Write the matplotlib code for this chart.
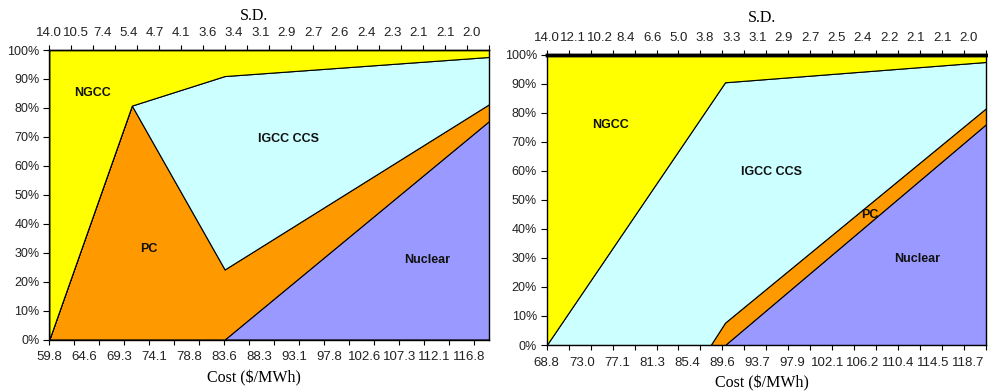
import numpy as np
import matplotlib
matplotlib.use("Agg")
import matplotlib.pyplot as plt
from matplotlib.ticker import PercentFormatter

# ---- data -------------------------------------------------------------
technologies = ["Nuclear", "PC", "IGCC CCS", "NGCC"]
tech_colors = ["#9999FF", "#FF9900", "#CCFFFF", "#FFFF00"]

# Left panel: share of each technology (%) vs. cost ($/MWh)
left_cost = [59.8, 71.0, 83.6, 119.5]
left_nuclear = [0.0, 0.0, 0.0, 75.5]
left_pc = [0.0, 80.8, 24.2, 5.8]
left_igcc = [0.0, 0.0, 66.8, 16.3]
left_ngcc = [100.0, 19.2, 9.0, 2.4]
left_cost_labels = ["59.8", "64.6", "69.3", "74.1", "78.8", "83.6", "88.3",
                    "93.1", "97.8", "102.6", "107.3", "112.1", "116.8"]
left_sd_labels = ["14.0", "10.5", "7.4", "5.4", "4.7", "4.1", "3.6", "3.4", "3.1",
                  "2.9", "2.7", "2.6", "2.4", "2.3", "2.1", "2.1", "2.0"]

# Right panel
right_cost = [68.8, 88.2, 89.9, 120.8]
right_nuclear = [0.0, 0.0, 0.0, 76.1]
right_pc = [0.0, 0.0, 7.7, 5.5]
right_igcc = [0.0, 83.2, 82.8, 15.9]
right_ngcc = [100.0, 16.8, 9.5, 2.5]
right_cost_labels = ["68.8", "73.0", "77.1", "81.3", "85.4", "89.6", "93.7",
                     "97.9", "102.1", "106.2", "110.4", "114.5", "118.7"]
right_sd_labels = ["14.0", "12.1", "10.2", "8.4", "6.6", "5.0", "3.8", "3.3", "3.1",
                   "2.9", "2.7", "2.5", "2.4", "2.2", "2.1", "2.1", "2.0"]

SANS = "Liberation Sans"
SERIF = "Liberation Serif"


def draw_panel(ax, cost, shares, cost_labels, sd_labels, n_steps, label_every,
               names_at, title_x, sd_y, cost_y, top_lw=1.0):
    x0 = float(cost_labels[0])
    label_step = (float(cost_labels[-1]) - x0) / (len(cost_labels) - 1)
    unit = label_step / label_every
    x1 = x0 + n_steps * unit

    ax.stackplot(cost, *shares, colors=tech_colors, edgecolor="black",
                 linewidth=0.8)
    ax.set_xlim(x0, x1)
    ax.set_ylim(0, 100)

    # y axis
    ax.set_yticks(np.arange(0, 101, 10))
    ax.yaxis.set_major_formatter(PercentFormatter(xmax=100, decimals=0))
    ax.tick_params(axis="y", direction="out", length=4, width=0.8, pad=3,
                   labelsize=9, colors="black", labelcolor="#222222")

    # bottom cost axis: tick marks every 5 points, labels on their own spacing
    ax.xaxis.remove_overlapping_locs = False
    ax.set_xticks(x0 + np.arange(0, n_steps + 1, 5) * unit)
    ax.set_xticklabels([])
    ax.set_xticks(x0 + np.arange(len(cost_labels)) * label_step, minor=True)
    ax.set_xticklabels(cost_labels, minor=True)
    ax.tick_params(axis="x", which="major", direction="out", length=3.6,
                   width=0.8)
    ax.tick_params(axis="x", which="minor", length=0, pad=8.5, labelsize=9.5,
                   labelcolor="#222222")
    ax.set_xlabel(r"Cost (\$/MWh)", fontfamily=SERIF, fontsize=11.5,
                  va="center")
    ax.xaxis.set_label_coords(title_x, cost_y)

    for lbl in ax.get_xticklabels(minor=True) + ax.get_yticklabels():
        lbl.set_fontfamily(SANS)

    # top S.D. axis
    top = ax.twiny()
    top.set_xlim(0, 100)
    top.xaxis.remove_overlapping_locs = False
    top.set_xticks(np.arange(0, 101, 5))
    top.set_xticklabels([])
    top.set_xticks(np.arange(0, 6 * len(sd_labels), 6), minor=True)
    top.set_xticklabels(sd_labels, minor=True)
    top.tick_params(axis="x", which="major", direction="out", length=3.6,
                    width=0.8)
    top.tick_params(axis="x", which="minor", length=0, pad=8, labelsize=9.5,
                    labelcolor="#222222")
    for lbl in top.get_xticklabels(minor=True):
        lbl.set_fontfamily(SANS)
    top.set_xlabel("S.D.", fontfamily=SERIF, fontsize=11.5, va="center")
    top.xaxis.set_label_coords(title_x, sd_y)
    for side in ("left", "right", "bottom"):
        top.spines[side].set_visible(False)
    top.spines["top"].set_linewidth(top_lw)

    for side in ax.spines.values():
        side.set_linewidth(1.0)
        side.set_color("black")
    ax.spines["top"].set_linewidth(top_lw)

    for name, (cx, cy) in names_at.items():
        ax.text(cx, cy, name, ha="center", va="center", fontsize=9,
                fontweight="bold", fontfamily=SANS, color="#111111")


fig = plt.figure(figsize=(9.88, 3.92), dpi=100)
W, H = 988.0, 392.0
ax_left = fig.add_axes([49.3 / W, 1 - 339.5 / H, 440.0 / W, 289.5 / H])
ax_right = fig.add_axes([546.7 / W, 1 - 345.0 / H, 439.3 / W, 290.3 / H])

draw_panel(ax_left, left_cost,
           [left_nuclear, left_pc, left_igcc, left_ngcc],
           left_cost_labels, left_sd_labels, n_steps=88, label_every=7,
           names_at={"NGCC": (65.6, 85.1), "PC": (73.3, 31.3),
                     "IGCC CCS": (92.2, 69.3), "Nuclear": (111.1, 27.5)},
           title_x=0.465, sd_y=1.118, cost_y=-0.133)

draw_panel(ax_right, right_cost,
           [right_nuclear, right_pc, right_igcc, right_ngcc],
           right_cost_labels, right_sd_labels, n_steps=100, label_every=8,
           names_at={"NGCC": (76.3, 75.8), "IGCC CCS": (95.4, 59.6),
                     "PC": (107.0, 44.8), "Nuclear": (112.6, 29.6)},
           title_x=0.49, sd_y=1.127, cost_y=-0.131, top_lw=2.5)

fig.savefig("out.png", dpi=100, facecolor="white")
